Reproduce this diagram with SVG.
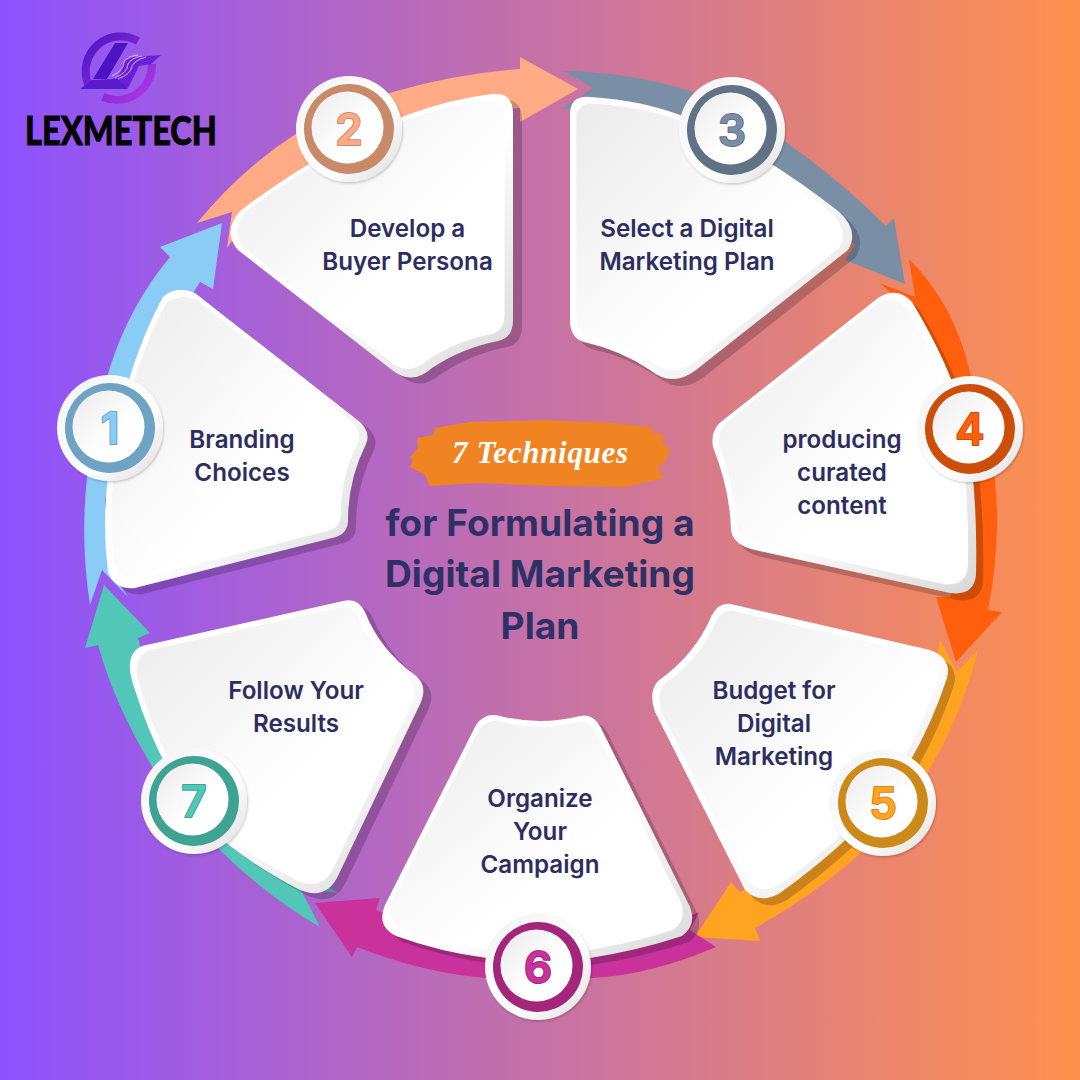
<svg xmlns="http://www.w3.org/2000/svg" xmlns:xlink="http://www.w3.org/1999/xlink" width="1080" height="1080" viewBox="0 0 1080 1080">
<style>
.lbl{font-family:Inter,"Liberation Sans",sans-serif;font-weight:600;font-size:24.2px;fill:#2e2d60;text-anchor:middle}
.ttl{font-family:Inter,"Liberation Sans",sans-serif;font-weight:700;font-size:37.2px;fill:#2f3166;text-anchor:middle}
.num{font-family:Inter,"Liberation Sans",sans-serif;font-weight:600;font-size:44px;text-anchor:middle;stroke-width:2px;paint-order:stroke;stroke-linejoin:round}
.shadow{fill:#000;opacity:.2}
.edge{fill:url(#gEdge)}
.face{fill:url(#gFace)}
.disc{fill:url(#gDisc);filter:url(#fDisc)}
.inner{fill:url(#gFace)}
</style>
<defs>
<linearGradient id="gBg" x1="0" y1="0" x2="1" y2="0"><stop offset="0" stop-color="#8c52ff"/><stop offset="1" stop-color="#ff914d"/></linearGradient>
<linearGradient id="gEdge" x1="0" y1="0" x2="1" y2="1"><stop offset="0" stop-color="#fff"/><stop offset=".55" stop-color="#fff"/><stop offset="1" stop-color="#d8d8d8"/></linearGradient>
<linearGradient id="gFace" x1="0" y1="0" x2="1" y2="1"><stop offset="0" stop-color="#ebebeb"/><stop offset=".6" stop-color="#fff"/><stop offset="1" stop-color="#fff"/></linearGradient>
<linearGradient id="gDisc" x1="0" y1="0" x2="1" y2="1"><stop offset="0" stop-color="#f2f2f2"/><stop offset=".6" stop-color="#fff"/><stop offset="1" stop-color="#dcdcdc"/></linearGradient>
<linearGradient id="gLogo" x1="0" y1="0" x2="1" y2="1"><stop offset="0" stop-color="#4a14c4"/><stop offset="1" stop-color="#b23ae6"/></linearGradient>
<filter id="fDisc" x="-20%" y="-20%" width="140%" height="140%"><feDropShadow dx="1" dy="1.5" stdDeviation="1" flood-color="#000" flood-opacity=".2"/></filter>
<path id="c1" d="M163 297Q176 285 195 293L355 418Q372 430 366 444Q348 480 348 520Q348 533 336 537L135 588Q115 590 108 572Q96 480 132 370Q145 330 163 297Z"/>
<path id="c2" d="M240 211Q320 150 407 115Q450 99 492 94Q513 92 513 114L513 320Q513 338 498 341Q462 348 432 368Q412 386 392 370L238 250Q222 232 240 211Z"/>
<path id="c3" d="M570 115Q570 95 590 97Q640 100 680 115Q760 150 838 211Q860 230 848 250L696 370Q672 388 650 370Q620 350 584 342Q570 338 570 320Z"/>
<path id="c4" d="M722 421L878 298Q897 286 912 302Q950 365 965 420Q978 490 976 575Q974 596 950 593L755 550Q733 545 731 530Q730 490 713 447Q710 430 722 421Z"/>
<path id="c5" d="M658 681Q695 655 712 615Q720 600 735 605L930 650Q952 658 947 678Q925 745 885 800Q840 850 780 893Q760 905 745 890L655 712Q648 692 658 681Z"/>
<path id="c6" d="M476 725Q485 712 500 716Q540 726 580 716Q593 713 601 728L690 907Q697 925 682 936Q640 950 590 958Q540 966 487 958Q440 952 396 936Q376 926 385 905Z"/>
<path id="c7" d="M142 646L343 601Q358 597 365 612Q380 650 415 675Q428 685 421 702L337 878Q325 900 300 890Q250 865 205 825Q160 770 135 690Q122 655 142 646Z"/>
</defs>
<rect width="1080" height="1080" fill="url(#gBg)"/>
<g id="logo">
<path d="M138 41A35 35 0 0 0 88 84M103 97A35 35 0 0 0 152 64" fill="none" stroke="url(#gLogo)" stroke-width="8"/>
<path d="M115 43L128 43L107 79L93 79Z" fill="#4a14c4"/>
<path d="M133 57L161 55L151 64L139 66L128 88L110 80Q122 76 122 66Q125 59 133 57Z" fill="#6a20d6"/>
<path d="M80 89L92 80L118 79L128 89Z" fill="#5a1ace"/>
<path d="M112 76Q124 70 124 62Q128 56 138 55M115 78Q128 72 128 64Q131 58 142 56M118 79Q131 74 132 66Q135 60 146 57" fill="none" stroke="#e6d6ff" stroke-width=".8"/>
<text x="25" y="145" font-family="Lato,'Liberation Sans',sans-serif" font-weight="900" font-size="40" textLength="192" lengthAdjust="spacingAndGlyphs" fill="#050505" stroke="#050505" stroke-width=".8">LEXMETECH</text>
</g>
<g id="connectors">
<path id="a1" fill="#8accf5" d="M90 605Q72 490 110 367Q130 305 170 257L160 247L222 223L213 289L200 282Q130 390 105 500L110 570L128 597L102 570Z"/>
<path id="a2" fill="#ffab85" d="M197 223Q240 170 297 133Q340 106 393 92Q455 74 520 69L520 57L578 89L520 122L520 108Q400 110 240 230L227 248L232 212Z"/>
<path id="a3" fill="#7a8fa6" d="M563 71Q630 72 690 91Q745 110 787 143Q840 180 886 226L894 218L905 284L845 260L855 245Q760 160 680 125Q620 110 562 109L593 88Z"/>
<path id="a4" fill="#ff5f0c" d="M909 259Q955 305 970 373Q998 450 997 527Q996 570 988 610L1002 612L956 662L936 597L950 597Q985 500 920 320L880 283L915 297Z"/>
<path id="a5" fill="#ffa321" d="M978 650Q955 740 905 805Q850 875 755 928L760 941L695 937L731 882L740 892Q850 830 900 740Q935 680 940 640L957 672Z"/>
<path id="a6" fill="#c9329a" d="M716 947Q650 975 593 978L485 978Q420 972 357 947L352 957L315 903L380 898L376 910Q480 950 540 950Q620 950 699 912L690 930Z"/>
<path id="a7" fill="#52c7b8" d="M320 927Q265 895 220 850Q175 810 150 763Q115 705 98 645L85 648L104 585L150 633L138 638Q160 730 230 810Q280 860 338 893L300 888Z"/>
</g>
<g id="center">
<path id="brush" fill="#f08322" d="M435 428L470 422L547 420L613 423L652 427L653 433L665 435L662 442L670 450L665 462L658 467L663 478L647 482L627 487L547 486L480 483L430 486L425 475L410 467L413 460L410 457L418 448L417 438L433 435Z"/>
<text x="540" y="463" font-family="'Liberation Serif',serif" font-style="italic" font-weight="700" font-size="31" fill="#fff" text-anchor="middle" textLength="176">7 Techniques</text>
<text class="ttl" x="540" y="536">for Formulating a</text>
<text class="ttl" x="540" y="587">Digital Marketing</text>
<text class="ttl" x="540" y="639">Plan</text>
</g>
<g id="node1">
<use href="#c1" class="shadow" transform="translate(8 6)"/><use href="#c1" class="edge"/><use href="#c1" class="face" transform="translate(235 437) scale(.945) translate(-235 -437) translate(-1 -1)"/>
<text class="lbl" x="242" y="448">Branding</text><text class="lbl" x="242" y="481">Choices</text>
<circle class="disc" cx="110" cy="428" r="53"/><circle cx="110" cy="428" r="45" fill="#6fa3c4"/><circle class="inner" cx="108.500" cy="426.500" r="36"/>
<text class="num" x="110" y="444" fill="#8accf5" stroke="#6fa3c4">1</text>
</g>
<g id="node2">
<use href="#c2" class="shadow" transform="translate(9 6)"/><use href="#c2" class="edge"/><use href="#c2" class="face" transform="translate(375 237) scale(.945) translate(-375 -237) translate(-1 -1)"/>
<text class="lbl" x="407.500" y="237">Develop a</text><text class="lbl" x="407.500" y="270">Buyer Persona</text>
<circle class="disc" cx="349" cy="129" r="53"/><circle cx="349" cy="129" r="45" fill="#c98a6a"/><circle class="inner" cx="347.500" cy="127.500" r="36"/>
<text class="num" x="349" y="145" fill="#ffab85" stroke="#c98a6a">2</text>
</g>
<g id="node3">
<use href="#c3" class="shadow" transform="translate(8 7)"/><use href="#c3" class="edge"/><use href="#c3" class="face" transform="translate(700 237) scale(.945) translate(-700 -237) translate(-1 -1)"/>
<text class="lbl" x="687" y="237">Select a Digital</text><text class="lbl" x="687" y="270">Marketing Plan</text>
<circle class="disc" cx="732" cy="130" r="53"/><circle cx="732" cy="130" r="45" fill="#5f7286"/><circle class="inner" cx="730.500" cy="128.500" r="36"/>
<text class="num" x="732" y="146" fill="#7a8fa6" stroke="#5f7286">3</text>
</g>
<g id="node4">
<use href="#c4" class="shadow" transform="translate(7 7)"/><use href="#c4" class="edge"/><use href="#c4" class="face" transform="translate(845 445) scale(.945) translate(-845 -445) translate(-1 -1)"/>
<text class="lbl" x="842" y="448">producing</text><text class="lbl" x="842" y="481">curated</text><text class="lbl" x="842" y="514">content</text>
<circle class="disc" cx="970" cy="429" r="53"/><circle cx="970" cy="429" r="45" fill="#cc4e0a"/><circle class="inner" cx="968.500" cy="427.500" r="36"/>
<text class="num" x="970" y="445" fill="#ff5f0c" stroke="#cc4e0a">4</text>
</g>
<g id="node5">
<use href="#c5" class="shadow" transform="translate(7 7)"/><use href="#c5" class="edge"/><use href="#c5" class="face" transform="translate(800 750) scale(.945) translate(-800 -750) translate(-1 -1)"/>
<text class="lbl" x="774" y="699">Budget for</text><text class="lbl" x="774" y="732">Digital</text><text class="lbl" x="774" y="765">Marketing</text>
<circle class="disc" cx="883" cy="803" r="53"/><circle cx="883" cy="803" r="45" fill="#cc8a1a"/><circle class="inner" cx="881.500" cy="801.500" r="36"/>
<text class="num" x="883" y="819" fill="#ffa321" stroke="#cc8a1a">5</text>
</g>
<g id="node6">
<use href="#c6" class="shadow" transform="translate(7 6)"/><use href="#c6" class="edge"/><use href="#c6" class="face" transform="translate(540 840) scale(.945) translate(-540 -840) translate(-1 -1)"/>
<text class="lbl" x="540" y="807">Organize</text><text class="lbl" x="540" y="840">Your</text><text class="lbl" x="540" y="873">Campaign</text>
<circle class="disc" cx="538" cy="967" r="53"/><circle cx="538" cy="967" r="45" fill="#a3267a"/><circle class="inner" cx="536.500" cy="965.500" r="36"/>
<text class="num" x="538" y="983" fill="#c9329a" stroke="#a3267a">6</text>
</g>
<g id="node7">
<use href="#c7" class="shadow" transform="translate(8 6)"/><use href="#c7" class="edge"/><use href="#c7" class="face" transform="translate(275 745) scale(.945) translate(-275 -745) translate(-1 -1)"/>
<text class="lbl" x="296" y="699">Follow Your</text><text class="lbl" x="296" y="732">Results</text>
<circle class="disc" cx="194" cy="801" r="53"/><circle cx="194" cy="801" r="45" fill="#3fa394"/><circle class="inner" cx="192.500" cy="799.500" r="36"/>
<text class="num" x="194" y="817" fill="#52c7b8" stroke="#3fa394">7</text>
</g>
</svg>
